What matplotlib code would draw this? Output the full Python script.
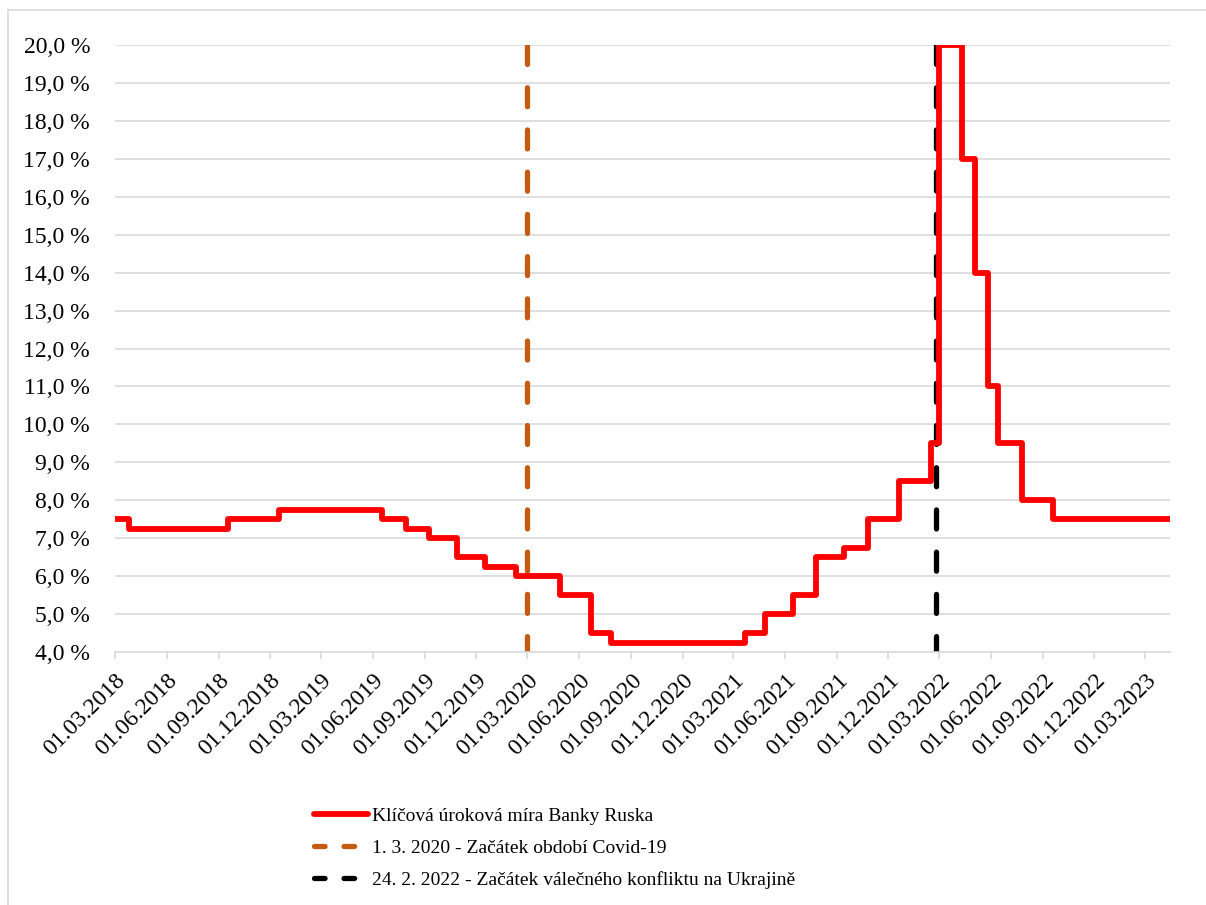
import matplotlib
matplotlib.use("Agg")
import matplotlib.pyplot as plt
import matplotlib.dates as mdates
from matplotlib.lines import Line2D
import numpy as np
from datetime import datetime

plt.rcParams['font.family'] = ['Liberation Serif', 'DejaVu Serif']

# key rate of the Bank of Russia, date of change -> rate in %
change_dates = ["2018-03-01", "2018-03-26", "2018-09-17", "2018-12-17", "2019-06-17",
                "2019-07-29", "2019-09-09", "2019-10-28", "2019-12-16", "2020-02-10",
                "2020-04-27", "2020-06-22", "2020-07-27", "2021-03-22", "2021-04-26",
                "2021-06-15", "2021-07-26", "2021-09-13", "2021-10-25", "2021-12-20",
                "2022-02-14", "2022-02-28", "2022-04-11", "2022-05-04", "2022-05-27",
                "2022-06-14", "2022-07-25", "2022-09-19", "2023-04-14"]
rates = [7.50, 7.25, 7.50, 7.75, 7.50,
         7.25, 7.00, 6.50, 6.25, 6.00,
         5.50, 4.50, 4.25, 4.50, 5.00,
         5.50, 6.50, 6.75, 7.50, 8.50,
         9.50, 20.00, 17.00, 14.00, 11.00,
         9.50, 8.00, 7.50, 7.50]

covid_date = "2020-03-01"
war_date = "2022-02-24"
labels = ["Klíčová úroková míra Banky Ruska",
          "1. 3. 2020 - Začátek období Covid-19",
          "24. 2. 2022 - Začátek válečného konfliktu na Ukrajině"]

dates = [datetime.strptime(d, "%Y-%m-%d") for d in change_dates]
red = "#FF0000"
orange = "#C55A11"
grid_c = "#D9D9D9"

fig = plt.figure(figsize=(12.06, 9.05), dpi=100)
W, H = 1206, 905
ax = fig.add_axes([115 / W, 1 - 652 / H, (1170 - 115) / W, (652 - 45) / H])

ax.step(dates, rates, where='post', color=red, lw=4.2, solid_joinstyle='round',
        solid_capstyle='round', zorder=3)

dash = (3.6, 4.4)
ax.plot([datetime.strptime(covid_date, "%Y-%m-%d")] * 2, [20, 4], color=orange, lw=3.8,
        dashes=dash, dash_capstyle='round', zorder=2)
ax.plot([datetime.strptime(war_date, "%Y-%m-%d")] * 2, [20, 4], color='black', lw=3.8,
        dashes=dash, dash_capstyle='round', zorder=2)

ax.set_xlim(dates[0], dates[-1])
ax.set_ylim(4, 20)
ax.set_yticks(np.arange(4, 21, 1))
ax.set_yticklabels([f"{v:.1f}".replace(".", ",") + " %" for v in np.arange(4, 21, 1)])
ax.yaxis.grid(True, color=grid_c, lw=1.2)
ax.set_axisbelow(True)

ax.xaxis.set_major_locator(mdates.MonthLocator(bymonth=[3, 6, 9, 12], bymonthday=1))
ax.xaxis.set_major_formatter(mdates.DateFormatter("%d.%m.%Y"))
for lab in ax.get_xticklabels():
    lab.set_rotation(45)
    lab.set_ha('right')
    lab.set_va('top')
    lab.set_rotation_mode('anchor')

for s in ['top', 'right', 'left']:
    ax.spines[s].set_visible(False)
ax.spines['bottom'].set_color(grid_c)
ax.spines['bottom'].set_linewidth(1.2)
ax.tick_params(axis='y', length=0, labelsize=17, pad=18)
ax.tick_params(axis='x', length=5, color=grid_c, width=1.2, labelsize=17, pad=8)

handles = [Line2D([], [], color=red, lw=4.2, solid_capstyle='round'),
           Line2D([], [], color=orange, lw=3.8, dashes=(2.0, 3.6), dash_capstyle='round'),
           Line2D([], [], color='black', lw=3.8, dashes=(2.0, 3.6), dash_capstyle='round')]
fig.legend(handles, labels, loc='upper left', bbox_to_anchor=(296 / W, 1 - 790 / H),
           frameon=False, fontsize=14, handlelength=2.8, handletextpad=0.2,
           labelspacing=0.72)

# outer frame of the chart area
fig.add_artist(Line2D([8 / W, 1], [1 - 10 / H, 1 - 10 / H], transform=fig.transFigure,
                      color=grid_c, lw=1.2))
fig.add_artist(Line2D([8 / W, 8 / W], [0, 1 - 10 / H], transform=fig.transFigure,
                      color=grid_c, lw=1.2))

fig.savefig("out.png", dpi=100)
